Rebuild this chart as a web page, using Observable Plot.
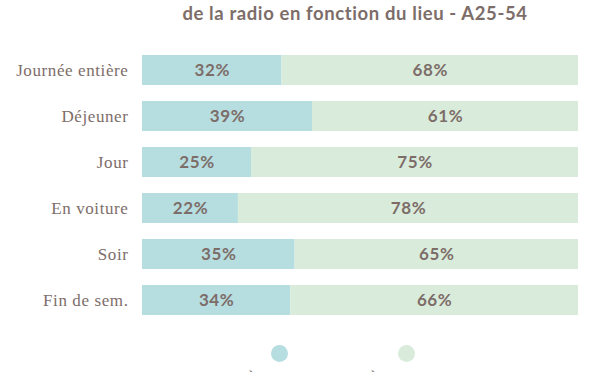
<!DOCTYPE html>
<html><head><meta charset="utf-8">
<script src="https://cdn.jsdelivr.net/npm/d3@7"></script>
<script src="https://cdn.jsdelivr.net/npm/@observablehq/plot@0.6"></script>
<style>
body{margin:0;background:#fff;overflow:hidden;}
#wrap{position:relative;width:600px;height:372px;overflow:hidden;}
#title{position:absolute;top:3px;left:122px;width:466px;text-align:center;font-family:Lato,sans-serif;font-weight:bold;font-size:18.5px;letter-spacing:0.6px;line-height:21px;color:#7d6d69;}
#chart{position:absolute;top:32px;left:0;}
#chart svg text{letter-spacing:0.6px;}
#legend{position:absolute;top:345px;left:0;width:600px;height:40px;}
.li{position:absolute;top:0;width:120px;text-align:center;font-family:Lato,sans-serif;font-size:14px;color:#7d6d69;}
.dot{width:17px;height:17px;border-radius:50%;margin:0 auto 7px auto;}
</style></head>
<body><div id="wrap">
<div id="title">de la radio en fonction du lieu - A25-54</div>
<div id="chart"></div>
<div id="legend"></div>
</div>
<script>
const categories = ["Journée entière","Déjeuner","Jour","En voiture","Soir","Fin de sem."];
const domicile = [32,39,25,22,35,34];
const exterieur = [68,61,75,78,65,66];
const seriesNames = ["À domicile","À l'extérieur"];
const colors = ["#b6dde0","#d9ecdb"];

const data = [];
categories.forEach((c,i)=>{
  data.push({cat:c, series:seriesNames[0], v:domicile[i]});
  data.push({cat:c, series:seriesNames[1], v:exterieur[i]});
});

const chart = Plot.plot({
  width:600, height:302,
  marginLeft:142, marginRight:22, marginTop:6, marginBottom:2,
  x:{domain:[0,100], axis:null},
  y:{domain:categories, padding:0.348, label:null},
  color:{domain:seriesNames, range:colors},
  style:{background:"transparent"},
  marks:[
    Plot.axisY({tickSize:0, tickPadding:14, label:null, fontSize:17, fontFamily:"Liberation Serif, serif", fill:"#7d6d69"}),
    Plot.barX(data, Plot.stackX({x:"v", y:"cat", fill:"series", z:"series", order:seriesNames})),
    Plot.text(data, Plot.stackX({x:"v", y:"cat", z:"series", order:seriesNames, text:d=>d.v+"%", fill:"#7d6d69", fontSize:17, fontWeight:"bold", fontFamily:"Lato, sans-serif"}))
  ]
});
document.getElementById("chart").appendChild(chart);

const leg = document.getElementById("legend");
const centers = [279,406];
seriesNames.forEach((s,i)=>{
  const d = document.createElement("div");
  d.className="li";
  d.style.left=(centers[i]-60)+"px";
  d.innerHTML=`<div class="dot" style="background:${colors[i]}"></div>${s}`;
  leg.appendChild(d);
});
</script>
</body></html>
